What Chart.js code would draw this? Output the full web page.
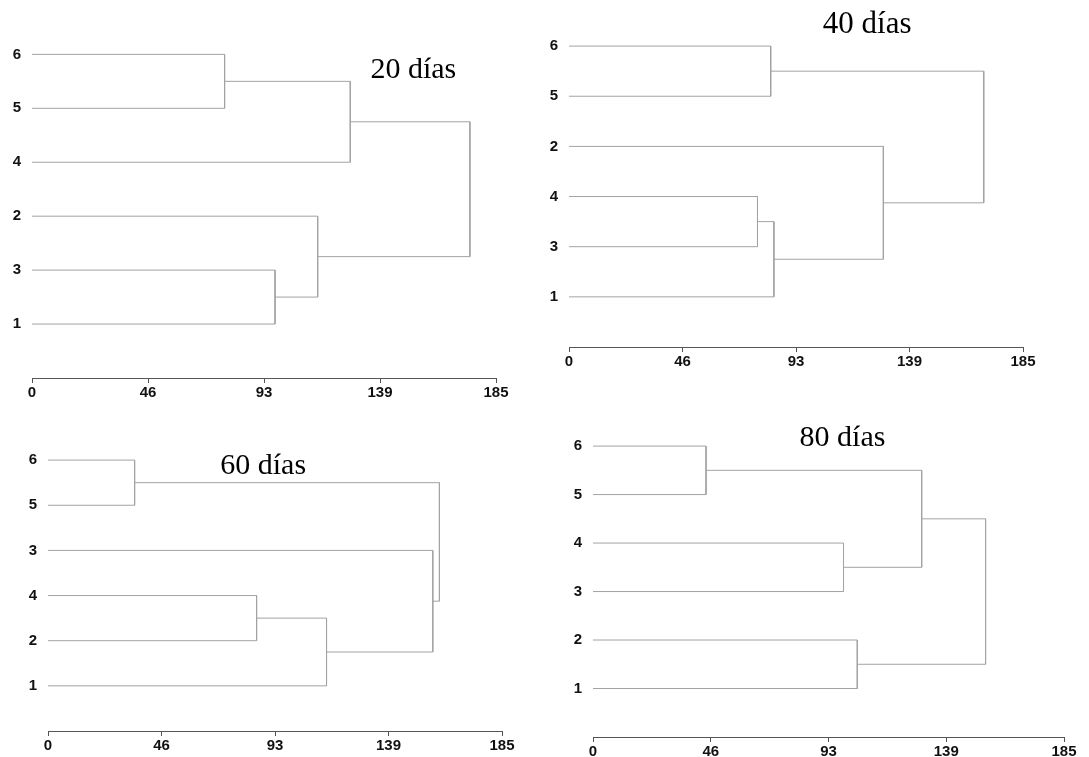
<!DOCTYPE html>
<html>
<head>
<meta charset="utf-8">
<script src="https://cdn.jsdelivr.net/npm/chart.js@4.4.1/dist/chart.umd.min.js"></script>
<style>
  html, body { margin: 0; padding: 0; background: #ffffff; }
  body { width: 1089px; height: 757px; position: relative; overflow: hidden; }
  canvas { position: absolute; }
  .ttl {
    position: absolute;
    font-family: "Liberation Serif", "Times New Roman", serif;
    line-height: 1;
    white-space: nowrap;
    color: #000;
    transform: translateX(-50%);
  }
</style>
</head>
<body>
<script>
// Dendrograms of the six samples at four sampling dates.
// Leaf order is listed top to bottom; merge steps follow the hclust convention
// (negative = sample number, positive = result of an earlier step).
const leaves20 = ['6', '5', '4', '2', '3', '1'];
const merges20 = [[-6, -5], [-3, -1], [-2, 2], [1, -4], [4, 3]];
const heights20 = [76.8, 96.9, 113.9, 126.9, 174.6];

const leaves40 = ['6', '5', '2', '4', '3', '1'];
const merges40 = [[-4, -3], [-6, -5], [1, -1], [-2, 3], [2, 4]];
const heights40 = [76.8, 82.2, 83.5, 128.1, 169.0];

const leaves60 = ['6', '5', '3', '4', '2', '1'];
const merges60 = [[-6, -5], [-4, -2], [2, -1], [-3, 3], [1, 4]];
const heights60 = [35.3, 85.0, 113.5, 156.8, 159.5];

const leaves80 = ['6', '5', '4', '3', '2', '1'];
const merges80 = [[-6, -5], [-4, -3], [-2, -1], [1, 2], [4, 3]];
const heights80 = [44.4, 98.4, 103.8, 129.1, 154.2];

const titles = ['20 días', '40 días', '60 días', '80 días'];
const xTickLabels = ['0', '46', '93', '139', '185'];
const xMax = 185;

// Layout (pixels): L/R = ends of the distance axis, B = axis line, S = row spacing
const YW = 30, XH = 30, PR = 24, PT = 24, YMAX = 6.6;
const LINE = '#a3a3a3', AXIS = '#555555';
const TICK_FONT = { family: '"Liberation Sans", Arial, sans-serif', size: 15, weight: 'bold' };

// Turn merge steps into bracket polylines (child -> height -> height -> child)
function brackets(leaves, merges, heights) {
  const n = leaves.length;
  const pos = {};
  leaves.forEach((lab, i) => { pos[lab] = n - i; });
  const nodes = [];
  const get = k => (k < 0 ? { x: 0, y: pos[String(-k)] } : nodes[k - 1]);
  return merges.map((m, i) => {
    const a = get(m[0]), b = get(m[1]), h = heights[i];
    nodes.push({ x: h, y: (a.y + b.y) / 2 });
    return [{ x: a.x, y: a.y }, { x: h, y: a.y }, { x: h, y: b.y }, { x: b.x, y: b.y }];
  });
}

function drawPanel(leaves, merges, heights, title, box) {
  const n = leaves.length;
  const areaTop = Math.round(box.B - YMAX * box.S);
  const cl = Math.round(box.L) - YW;
  const ct = areaTop - PT;
  const w = YW + Math.round(box.R - box.L) + PR;
  const h = Math.round(box.B) - ct + XH;

  const cv = document.createElement('canvas');
  cv.width = w; cv.height = h;
  cv.style.left = cl + 'px'; cv.style.top = ct + 'px';
  cv.style.width = w + 'px'; cv.style.height = h + 'px';
  document.body.appendChild(cv);

  const ttl = document.createElement('div');
  ttl.className = 'ttl';
  ttl.textContent = title;
  ttl.style.fontSize = box.fs + 'px';
  ttl.style.left = box.tx + 'px';
  ttl.style.top = (box.tb - 0.8375 * box.fs) + 'px';
  document.body.appendChild(ttl);

  new Chart(cv, {
    type: 'line',
    data: {
      datasets: brackets(leaves, merges, heights).map(pts => ({
        data: pts,
        borderColor: LINE,
        borderWidth: 1,
        pointRadius: 0,
        tension: 0,
        fill: false
      }))
    },
    options: {
      responsive: false,
      animation: false,
      events: [],
      layout: { padding: { left: 0, top: PT, right: PR, bottom: 0 } },
      plugins: { legend: { display: false }, tooltip: { enabled: false }, title: { display: false } },
      scales: {
        x: {
          type: 'linear',
          position: 'bottom',
          min: 0,
          max: xMax,
          afterBuildTicks: s => { s.ticks = xTickLabels.map((_, i) => ({ value: i * xMax / (xTickLabels.length - 1) })); },
          afterFit: s => { s.height = XH; },
          ticks: {
            callback: (v, i) => xTickLabels[i],
            font: TICK_FONT,
            color: '#111111',
            padding: 1,
            maxRotation: 0,
            autoSkip: false
          },
          grid: { drawOnChartArea: false, drawTicks: true, tickLength: 5, color: AXIS, lineWidth: 1 },
          border: { display: true, color: AXIS, width: 1 }
        },
        y: {
          type: 'linear',
          min: 0,
          max: YMAX,
          afterBuildTicks: s => { s.ticks = leaves.map((_, i) => ({ value: n - i })); },
          afterFit: s => { s.width = YW; },
          ticks: {
            callback: v => leaves[n - v],
            font: TICK_FONT,
            color: '#111111',
            padding: 11,
            autoSkip: false
          },
          grid: { display: false, drawTicks: false, tickLength: 0 },
          border: { display: false }
        }
      }
    }
  });
}

drawPanel(leaves20, merges20, heights20, titles[0],
  { L: 32.3, R: 496.7, B: 378.3, S: 54.0, tx: 413.3, tb: 77.7, fs: 30 });
drawPanel(leaves40, merges40, heights40, titles[1],
  { L: 569.0, R: 1022.7, B: 346.7, S: 50.1, tx: 867.2, tb: 33.3, fs: 31 });
drawPanel(leaves60, merges60, heights60, titles[2],
  { L: 48.3, R: 502.7, B: 730.7, S: 45.1, tx: 263.2, tb: 474.0, fs: 30 });
drawPanel(leaves80, merges80, heights80, titles[3],
  { L: 592.7, R: 1063.3, B: 736.7, S: 48.5, tx: 842.5, tb: 445.7, fs: 30 });
</script>
</body>
</html>
